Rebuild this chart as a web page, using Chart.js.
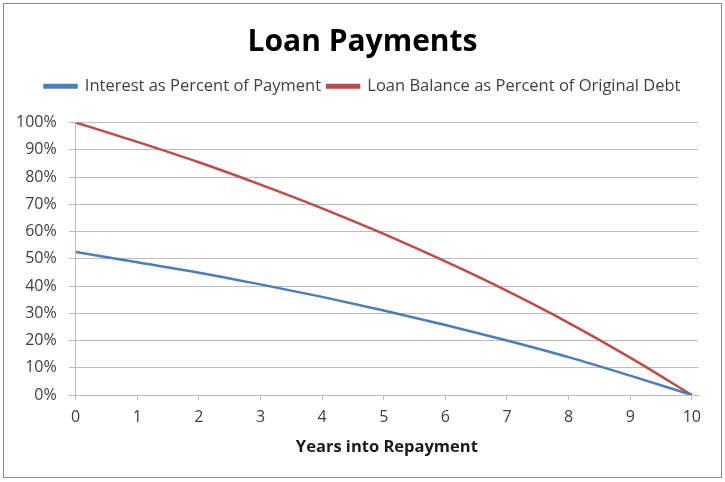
<!DOCTYPE html>
<html>
<head>
<meta charset="utf-8">
<script src="https://cdn.jsdelivr.net/npm/chart.js@4/dist/chart.umd.min.js"></script>
<style>
    html, body { margin: 0; padding: 0; background: #fff; }
    #quadro {
        position: absolute;
        left: 3px; top: 3px;
        width: 717px; height: 473px;
        border: 1.5px solid #8c8c8c;
        background: #fff;
    }
    #grafico { display: block; }
</style>
</head>
<body>
<div id="quadro"><canvas id="grafico" width="717" height="473"></canvas></div>
<script>
// Dados do gráfico
const anos = [0, 1, 2, 3, 4, 5, 6, 7, 8, 9, 10];
const jurosPercentual = [52.5, 48.7, 44.9, 40.6, 36.0, 31.0, 25.7, 20.0, 13.9, 7.1, 0];
const saldoPercentual = [100, 92.9, 85.4, 77.2, 68.5, 59.1, 49.0, 38.2, 26.5, 13.7, 0];
const ticksY = [0, 10, 20, 30, 40, 50, 60, 70, 80, 90, 100];

const corTexto = '#404040';
const corGrade = '#bdbdbd';

function pontos(valores) {
    return anos.map((x, i) => ({ x: x, y: valores[i] }));
}

// Espaço extra abaixo da legenda e título/legenda centralizados no quadro todo
const ajusteLayout = {
    id: 'ajusteLayout',
    beforeInit(chart) {
        const legenda = chart.legend;
        if (!legenda) return;
        const fitOriginal = legenda.fit;
        legenda.fit = function() {
            fitOriginal.call(this);
            this.height += 18;
        };
    },
    afterLayout(chart) {
        [chart.titleBlock, chart.legend].forEach(function(bloco) {
            if (bloco) {
                bloco.left = 0;
                bloco.right = chart.width;
                bloco.width = chart.width;
            }
        });
    }
};

document.addEventListener('DOMContentLoaded', function() {
    const ctx = document.getElementById('grafico').getContext('2d');

    new Chart(ctx, {
        type: 'line',
        data: {
            datasets: [{
                label: 'Interest as Percent of Payment',
                data: pontos(jurosPercentual),
                borderColor: '#4a7ebb',
                backgroundColor: '#4a7ebb',
                borderWidth: 2.5,
                pointRadius: 0,
                cubicInterpolationMode: 'monotone'
            }, {
                label: 'Loan Balance as Percent of Original Debt',
                data: pontos(saldoPercentual),
                borderColor: '#be4b48',
                backgroundColor: '#be4b48',
                borderWidth: 2.5,
                pointRadius: 0,
                cubicInterpolationMode: 'monotone'
            }]
        },
        options: {
            responsive: false,
            animation: false,
            layout: { padding: { left: 0, right: 23, top: 17, bottom: 16 } },
            plugins: {
                title: {
                    display: true,
                    text: 'Loan Payments',
                    color: '#000',
                    font: { family: 'Open Sans', size: 30, weight: 'bold' },
                    padding: { top: 3, bottom: 12 }
                },
                legend: {
                    position: 'top',
                    labels: {
                        color: corTexto,
                        font: { family: 'Open Sans', size: 16.5 },
                        boxWidth: 32,
                        boxHeight: 2.5,
                        padding: 6
                    }
                },
                tooltip: { enabled: false }
            },
            scales: {
                x: {
                    type: 'linear',
                    min: 0,
                    max: 10.1,
                    afterBuildTicks: function(axis) {
                        axis.ticks = anos.map(v => ({ value: v }));
                    },
                    ticks: {
                        color: corTexto,
                        font: { family: 'Open Sans', size: 16 },
                        padding: 8,
                        maxRotation: 0
                    },
                    grid: {
                        drawOnChartArea: false,
                        drawTicks: true,
                        tickLength: 5,
                        color: corGrade
                    },
                    border: { color: corGrade, width: 1 },
                    title: {
                        display: true,
                        text: 'Years into Repayment',
                        color: '#1a1a1a',
                        font: { family: 'Open Sans', size: 16.5, weight: 'bold' },
                        padding: { top: 2 }
                    }
                },
                y: {
                    min: 0,
                    max: 100,
                    afterBuildTicks: function(axis) {
                        axis.ticks = ticksY.map(v => ({ value: v }));
                    },
                    ticks: {
                        color: corTexto,
                        font: { family: 'Open Sans', size: 16 },
                        padding: 12,
                        callback: function(v) { return v + '%'; }
                    },
                    grid: {
                        color: corGrade,
                        tickLength: 7
                    },
                    border: { color: corGrade, width: 1 }
                }
            }
        },
        plugins: [ajusteLayout]
    });
});
</script>
</body>
</html>
